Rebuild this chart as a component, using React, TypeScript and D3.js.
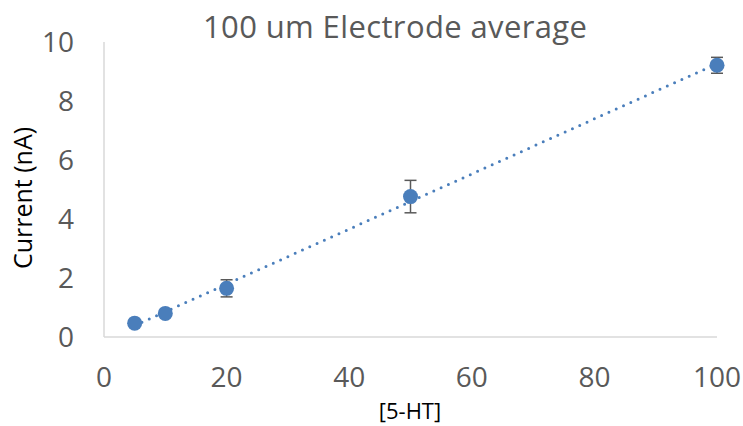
import React from 'react';
import * as d3 from 'd3';

const concentrations = [5, 10, 20, 50, 100];
const currents = [0.47, 0.8, 1.65, 4.76, 9.21];
const errors = [0.05, 0.08, 0.29, 0.55, 0.27];
const xTicks = [0, 20, 40, 60, 80, 100];
const yTicks = [0, 2, 4, 6, 8, 10];

const W = 743;
const H = 426;
const FONT = '"Open Sans", sans-serif';
const BLUE = '#4a7ebb';
const TEXT = '#595959';

export default function App() {
  const x = d3.scaleLinear().domain([0, 100]).range([104, 717]);
  const y = d3.scaleLinear().domain([0, 10]).range([337, 42]);

  // least squares trendline, as Excel draws it
  const mx = d3.mean(concentrations)!;
  const my = d3.mean(currents)!;
  const slope =
    d3.sum(concentrations, (c, i) => (c - mx) * (currents[i] - my)) /
    d3.sum(concentrations, (c) => (c - mx) ** 2);
  const icpt = my - slope * mx;
  const x0 = d3.min(concentrations)!;
  const x1 = d3.max(concentrations)!;

  return (
    <svg width={W} height={H} style={{ display: 'block', position: 'absolute', left: 0, top: 0 }}>
      <rect width={W} height={H} fill="#fff" />
      <text x={395} y={38} textAnchor="middle" fontFamily={FONT} fontSize={31} fill={TEXT}
        textLength={384} lengthAdjust="spacing">
        100 um Electrode average
      </text>

      <line x1={x(0)} x2={x(100)} y1={y(0)} y2={y(0)} stroke="#d9d9d9" strokeWidth={1.5} />
      <line x1={x(0)} x2={x(0)} y1={y(0)} y2={y(10)} stroke="#d9d9d9" strokeWidth={1.5} />

      {yTicks.map((t) => (
        <text key={t} x={74} y={y(t) + 10} textAnchor="end" fontFamily={FONT} fontSize={28} fill={TEXT}>
          {t}
        </text>
      ))}
      {xTicks.map((t) => (
        <text key={t} x={x(t)} y={387} textAnchor="middle" fontFamily={FONT} fontSize={28} fill={TEXT}>
          {t}
        </text>
      ))}

      <text x={410} y={419} textAnchor="middle" fontFamily={FONT} fontSize={22} fill="#000">
        [5-HT]
      </text>
      <text
        transform={`translate(32, 198) rotate(-90)`}
        textAnchor="middle"
        fontFamily={FONT}
        fontSize={25}
        fill="#000"
      >
        Current (nA)
      </text>

      <line
        x1={x(x0)}
        x2={x(x1)}
        y1={y(icpt + slope * x0)}
        y2={y(icpt + slope * x1)}
        stroke={BLUE}
        strokeWidth={3}
        strokeLinecap="round"
        strokeDasharray="0 8"
      />

      {concentrations.map((c, i) => (
        <g key={c}>
          <line x1={x(c)} x2={x(c)} y1={y(currents[i] - errors[i])} y2={y(currents[i] + errors[i])} stroke={TEXT} strokeWidth={1.5} />
          <line x1={x(c) - 6} x2={x(c) + 6} y1={y(currents[i] + errors[i])} y2={y(currents[i] + errors[i])} stroke={TEXT} strokeWidth={1.5} />
          <line x1={x(c) - 6} x2={x(c) + 6} y1={y(currents[i] - errors[i])} y2={y(currents[i] - errors[i])} stroke={TEXT} strokeWidth={1.5} />
          <circle cx={x(c)} cy={y(currents[i])} r={7.5} fill={BLUE} />
        </g>
      ))}
    </svg>
  );
}
